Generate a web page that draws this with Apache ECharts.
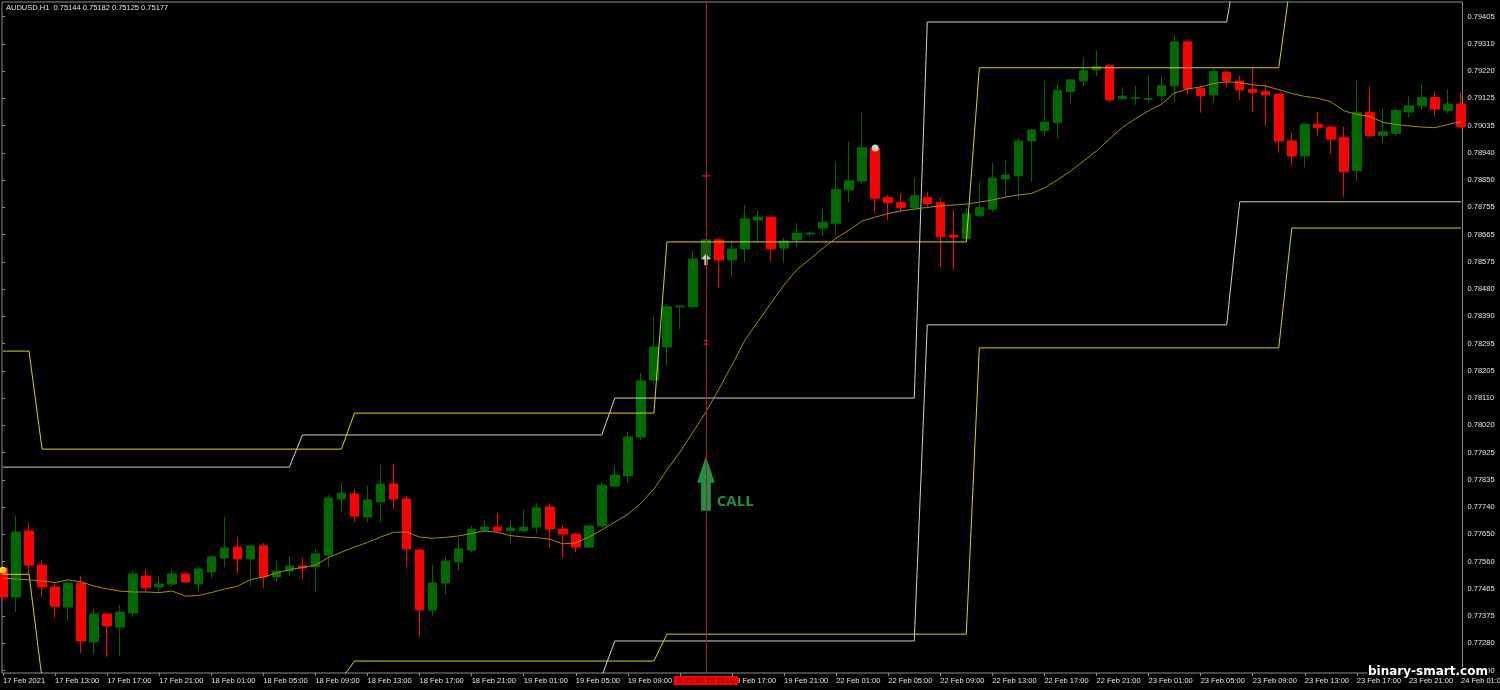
<!DOCTYPE html>
<html><head><meta charset="utf-8">
<script src="https://cdn.jsdelivr.net/npm/echarts@6/dist/echarts.min.js"></script>
<style>html,body{margin:0;padding:0;background:#000;}#c{width:1500px;height:690px;}</style>
</head><body><div id="c"></div>
<script>
// ---- time axis (H1 bars, 17 Feb 09:00 .. 24 Feb 01:00, weekend skipped) ----
const daySegments = [['17 Feb',9,23],['18 Feb',0,23],['19 Feb',0,23],['22 Feb',0,23],['23 Feb',0,23],['24 Feb',0,1]];
const categories = [];
daySegments.forEach(function(d){ for(let h=d[1]; h<=d[2]; h++){ categories.push(d[0]+' '+(h<10?'0':'')+h+':00'); } });

const xTickLabels = ['17 Feb 2021','17 Feb 13:00','17 Feb 17:00','17 Feb 21:00','18 Feb 01:00','18 Feb 05:00','18 Feb 09:00','18 Feb 13:00','18 Feb 17:00','18 Feb 21:00','19 Feb 01:00','19 Feb 05:00','19 Feb 09:00','19 Feb 13:00','19 Feb 17:00','19 Feb 21:00','22 Feb 01:00','22 Feb 05:00','22 Feb 09:00','22 Feb 13:00','22 Feb 17:00','22 Feb 21:00','23 Feb 01:00','23 Feb 05:00','23 Feb 09:00','23 Feb 13:00','23 Feb 17:00','23 Feb 21:00','24 Feb 01:00'];
const yTickLabels = ['0.77190','0.77280','0.77375','0.77465','0.77560','0.77650','0.77740','0.77835','0.77925','0.78020','0.78110','0.78205','0.78295','0.78390','0.78480','0.78575','0.78665','0.78755','0.78850','0.78940','0.79035','0.79125','0.79220','0.79310','0.79405'];

// ---- candles ----
const opens = [
0.77537,0.77439,0.77663,0.77547,0.77473,0.77405,0.77486,0.77287,0.77381,0.77337,
0.77385,0.77510,0.77473,0.77483,0.77517,0.77483,0.77524,0.77571,0.77608,0.77568,
0.77612,0.77507,0.77527,0.77544,0.77541,0.77581,0.77771,0.77788,0.77710,0.77761,
0.77822,0.77771,0.77598,0.77395,0.77486,0.77558,0.77598,0.77666,0.77676,0.77663,
0.77663,0.77676,0.77744,0.77669,0.77652,0.77608,0.77680,0.77815,0.77849,0.77981,
0.78174,0.78286,0.78422,0.78422,0.78584,0.78649,0.78581,0.78618,0.78716,0.78726,
0.78621,0.78649,0.78669,0.78689,0.78705,0.78818,0.78848,0.78959,0.78793,0.78775,
0.78758,0.78793,0.78775,0.78665,0.78654,0.78731,0.78753,0.78855,0.78866,0.78984,
0.79019,0.79046,0.79151,0.79187,0.79224,0.79239,0.79127,0.79129,0.79125,0.79137,
0.79171,0.79320,0.79162,0.79140,0.79217,0.79187,0.79159,0.79151,0.79143,0.78984,
0.78933,0.79041,0.79031,0.78995,0.78883,0.79081,0.79003,0.79010,0.79082,0.79103,
0.79131,0.79087,0.79109];
const highs = [
0.77544,0.77713,0.77693,0.77564,0.77486,0.77493,0.77510,0.77398,0.77385,0.77412,
0.77527,0.77530,0.77510,0.77534,0.77524,0.77541,0.77581,0.77710,0.77642,0.77612,
0.77622,0.77561,0.77578,0.77571,0.77602,0.77785,0.77825,0.77805,0.77815,0.77886,
0.77890,0.77781,0.77605,0.77547,0.77575,0.77639,0.77680,0.77700,0.77724,0.77700,
0.77734,0.77757,0.77757,0.77683,0.77656,0.77683,0.77829,0.77883,0.77998,0.78198,
0.78388,0.78432,0.78425,0.78611,0.78652,0.78655,0.78645,0.78767,0.78747,0.78726,
0.78655,0.78706,0.78676,0.78756,0.78914,0.78982,0.79080,0.78963,0.78801,0.78807,
0.78861,0.78812,0.78790,0.78750,0.78756,0.78846,0.78910,0.78920,0.78993,0.79025,
0.79187,0.79179,0.79191,0.79266,0.79289,0.79247,0.79166,0.79170,0.79208,0.79202,
0.79343,0.79328,0.79170,0.79227,0.79221,0.79205,0.79232,0.79179,0.79143,0.79010,
0.79044,0.79083,0.79035,0.79032,0.79191,0.79170,0.79095,0.79095,0.79137,0.79176,
0.79151,0.79159,0.79148];
const lows = [
0.77429,0.77388,0.77514,0.77439,0.77368,0.77358,0.77249,0.77246,0.77236,0.77239,
0.77371,0.77456,0.77453,0.77473,0.77486,0.77456,0.77503,0.77541,0.77520,0.77476,
0.77470,0.77490,0.77510,0.77500,0.77456,0.77541,0.77727,0.77693,0.77693,0.77693,
0.77737,0.77541,0.77303,0.77375,0.77446,0.77527,0.77591,0.77656,0.77656,0.77622,
0.77659,0.77656,0.77605,0.77571,0.77591,0.77605,0.77676,0.77812,0.77825,0.77971,
0.78164,0.78225,0.78347,0.78418,0.78574,0.78489,0.78527,0.78574,0.78638,0.78574,
0.78571,0.78625,0.78659,0.78662,0.78665,0.78778,0.78838,0.78739,0.78716,0.78744,
0.78750,0.78761,0.78558,0.78547,0.78652,0.78727,0.78744,0.78795,0.78782,0.78846,
0.79001,0.78993,0.79114,0.79170,0.79204,0.79117,0.79125,0.79106,0.79112,0.79117,
0.79117,0.79140,0.79080,0.79114,0.79166,0.79123,0.79083,0.79035,0.78944,0.78903,
0.78895,0.78999,0.78940,0.78795,0.78849,0.78996,0.78978,0.78999,0.79064,0.79089,
0.79069,0.79078,0.79025];
const closes = [
0.77439,0.77659,0.77547,0.77473,0.77408,0.77486,0.77290,0.77381,0.77341,0.77388,
0.77517,0.77470,0.77483,0.77517,0.77490,0.77534,0.77575,0.77605,0.77568,0.77612,
0.77507,0.77527,0.77544,0.77537,0.77585,0.77774,0.77791,0.77713,0.77768,0.77822,
0.77771,0.77602,0.77395,0.77486,0.77561,0.77602,0.77669,0.77676,0.77663,0.77673,
0.77676,0.77741,0.77669,0.77652,0.77608,0.77680,0.77818,0.77852,0.77981,0.78171,
0.78286,0.78422,0.78425,0.78584,0.78649,0.78581,0.78618,0.78720,0.78726,0.78618,
0.78645,0.78672,0.78672,0.78708,0.78820,0.78849,0.78961,0.78790,0.78775,0.78759,
0.78798,0.78772,0.78660,0.78658,0.78737,0.78759,0.78858,0.78869,0.78984,0.79021,
0.79048,0.79156,0.79191,0.79222,0.79236,0.79123,0.79136,0.79132,0.79128,0.79171,
0.79320,0.79162,0.79137,0.79219,0.79187,0.79157,0.79149,0.79140,0.78984,0.78933,
0.79041,0.79030,0.78990,0.78880,0.79081,0.79002,0.79015,0.79087,0.79103,0.79131,
0.79092,0.79109,0.79032];

// ---- moving average ----
const maValues = [
0.77503,0.77500,0.77497,0.77493,0.77488,0.77497,0.77490,0.77476,0.77466,0.77459,
0.77456,0.77456,0.77454,0.77459,0.77442,0.77444,0.77454,0.77466,0.77475,0.77498,
0.77507,0.77520,0.77532,0.77539,0.77547,0.77573,0.77591,0.77608,0.77624,0.77642,
0.77658,0.77659,0.77642,0.77638,0.77641,0.77646,0.77654,0.77663,0.77658,0.77647,
0.77642,0.77640,0.77635,0.77619,0.77622,0.77642,0.77666,0.77693,0.77719,0.77757,
0.77805,0.77869,0.77930,0.77998,0.78066,0.78144,0.78225,0.78310,0.78372,0.78435,
0.78496,0.78549,0.78584,0.78621,0.78655,0.78682,0.78713,0.78726,0.78738,0.78747,
0.78753,0.78759,0.78764,0.78767,0.78770,0.78777,0.78784,0.78794,0.78801,0.78806,
0.78825,0.78852,0.78882,0.78916,0.78950,0.78991,0.79030,0.79060,0.79086,0.79109,
0.79147,0.79160,0.79167,0.79179,0.79184,0.79182,0.79174,0.79170,0.79158,0.79145,
0.79135,0.79129,0.79117,0.79086,0.79074,0.79067,0.79047,0.79040,0.79035,0.79031,
0.79029,0.79040,0.79049];

// ---- channel levels: [bar index, price] at each corner ----
const yellowUpper = [[0,0.78272],[2,0.78272],[3,0.77940],[26,0.77940],[27,0.78062],[50,0.78062],[51,0.78642],[74,0.78642],[75,0.79232],[98,0.79232],[99,0.79553],[112,0.79553]];
const yellowLower = [[0,0.77516],[2,0.77516],[3,0.77161],[26,0.77161],[27,0.77222],[50,0.77222],[51,0.77313],[74,0.77313],[75,0.78283],[98,0.78283],[99,0.78689],[112,0.78689]];
const whiteUpper  = [[0,0.77879],[22,0.77879],[23,0.77988],[46,0.77988],[47,0.78113],[70,0.78113],[71,0.79387],[94,0.79387],[95,0.79648],[112,0.79648]];
const whiteLower  = [[0,0.77171],[46,0.77171],[47,0.77290],[70,0.77290],[71,0.78361],[94,0.78361],[95,0.78778],[112,0.78778]];

// ---- signal markers ----
const signalBar = 54;
const signalLabel = '2021.02.19 15:00';
const takeProfitLevel = 0.78866;
const stopLevel = 0.78302;
const entryArrowPrice = 0.78582;
const callArrowPrice = 0.77824;
const whiteDot = [67, 0.78960];
const yellowDot = [0, 0.77530];
const titleText = 'AUDUSD,H1  0.75144 0.75182 0.75125 0.75177';

const FONT = '"Liberation Sans", Arial, sans-serif';
const GRAY = '#8c8c8c';
const chart = echarts.init(document.getElementById('c'), null, {renderer:'canvas'});
const candleData = opens.map(function(o,i){ return [o, closes[i], lows[i], highs[i]]; });

const option = {
  backgroundColor:'#000000',
  animation:false,
  grid:[
    {left:3, right:39, top:2, bottom:17, outerBoundsMode:'none', containLabel:false},
    {left:2, right:37.5, top:16.7, bottom:19.5, outerBoundsMode:'none', containLabel:false},
    {left:2, right:37.5, top:2, bottom:17, outerBoundsMode:'none', containLabel:false, show:true, borderColor:GRAY, borderWidth:1, backgroundColor:'transparent'}
  ],
  xAxis:[
    {type:'category', gridIndex:0, data:categories, boundaryGap:false,
     axisLine:{show:false},
     axisTick:{show:true, interval:3, length:3, lineStyle:{color:GRAY}},
     axisLabel:{interval:3, align:'left', margin:4, color:'#e4e4e4', fontSize:7.5, fontFamily:FONT, hideOverlap:false,
       formatter:function(v,i){ return xTickLabels[i/4] || ''; }},
     splitLine:{show:false}},
    {type:'value', gridIndex:1, show:false},
    {type:'value', gridIndex:2, show:false}
  ],
  yAxis:[
    {type:'value', gridIndex:0, min:0.771815, max:0.794548, show:false, splitLine:{show:false}},
    {type:'value', gridIndex:1, position:'right', min:0, max:24, interval:1,
     axisLine:{show:false},
     axisTick:{show:true, length:3, lineStyle:{color:GRAY}},
     axisLabel:{margin:5, color:'#e4e4e4', fontSize:7.5, fontFamily:FONT,
       formatter:function(v){ return yTickLabels[Math.round(v)]; }},
     splitLine:{show:false}},
    {type:'value', gridIndex:2, show:false}
  ],
  series:[
    {type:'candlestick', xAxisIndex:0, yAxisIndex:0, data:candleData, barWidth:9,
     itemStyle:{color:'#006a00', color0:'#ff0000', borderColor:'#006a00', borderColor0:'#ff0000', borderWidth:1}},
    {type:'line', data:whiteUpper, symbol:'none', lineStyle:{color:'#cfcfcf', width:1}},
    {type:'line', data:whiteLower, symbol:'none', lineStyle:{color:'#cfcfcf', width:1}},
    {type:'line', data:yellowUpper, symbol:'none', lineStyle:{color:'#d8d400', width:1}},
    {type:'line', data:yellowLower, symbol:'none', lineStyle:{color:'#d8d400', width:1}},
    {type:'line', data:maValues, symbol:'none', lineStyle:{color:'#a88c00', width:1}},
    {type:'scatter', data:[], silent:true,
     markLine:{silent:true, symbol:['none','none'], animation:false,
       lineStyle:{color:'#b01818', width:1, type:'solid'},
       label:{show:true, position:'start', distance:3, formatter:signalLabel,
         color:'#6a0000', backgroundColor:'#ff0000', padding:[1,3,0,3], fontSize:7.5, lineHeight:8, fontFamily:FONT},
       data:[{xAxis:signalBar}]}},
    {type:'scatter', clip:false, silent:true, data:[
      {value:[signalBar, takeProfitLevel], symbol:'path://M0,2 L8,2 L8,3.2 L0,3.2 Z M3.4,0 L4.6,0 L4.6,5 L3.4,5 Z', symbolSize:[8,5], itemStyle:{color:'#ff2020'}},
      {value:[signalBar, stopLevel], symbol:'path://M0,0 L6,0 L3,2.5 L6,5 L0,5 L3,2.5 Z', symbolSize:[6,5], itemStyle:{color:'#ff2020'}},
      {value:[signalBar, entryArrowPrice], symbol:'path://M4.5,0 L9,5 L6,5 L6,11 L3,11 L3,5 L0,5 Z', symbolSize:[9,11], itemStyle:{color:'#ffffff', borderColor:'#9aa8c0', borderWidth:0.5}},
      {value:whiteDot, symbol:'circle', symbolSize:7, itemStyle:{color:'#ffffff'}},
      {value:yellowDot, symbol:'circle', symbolSize:7, itemStyle:{color:'#ffff30'}}
    ]},
    {type:'scatter', clip:false, silent:true, data:[
      {value:[signalBar, callArrowPrice], symbol:'path://M8.85,0 L17.7,26.7 L13.7,26.7 L13.7,54.7 L4,54.7 L4,26.7 L0,26.7 Z', symbolSize:[17.7,54.7],
       itemStyle:{color:'#2ab35a'},
       label:{show:true, position:'right', distance:2, offset:[0,18.3], formatter:'CALL', color:'#2ab35a', fontSize:15, fontWeight:'bold', fontFamily:'"Open Sans", sans-serif'}}
    ]}
  ],
  graphic:[
    {type:'text', left:6, top:4, z:50, style:{text:titleText, fill:'#e4e4e4', font:'7.5px '+FONT}},
    {type:'text', x:1368, y:672, z:100, style:{text:'binary-smart.com', fill:'#ffffff', stroke:'#000000', lineWidth:3, font:'bold 12px "DejaVu Sans"', textVerticalAlign:'middle', verticalAlign:'middle'}}
  ]
};
chart.setOption(option);
</script>
</body></html>
